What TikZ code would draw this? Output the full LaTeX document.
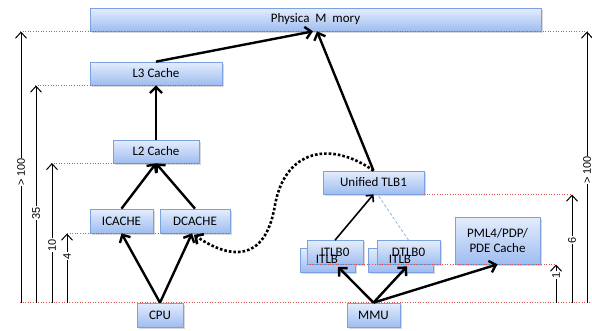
\documentclass[tikz,border=0pt]{standalone}
\usepackage{fontspec}
\setmainfont{Carlito}
\newfontfamily\axisfont{Liberation Sans}
\usetikzlibrary{arrows.meta,shadows}
\definecolor{boxtop}{HTML}{E4EDFC}
\definecolor{boxbot}{HTML}{9FBDF1}
\definecolor{boxborder}{HTML}{7AA2E0}
\definecolor{guidered}{HTML}{D9534F}
\definecolor{faintblue}{HTML}{8FB4E8}
\tikzset{
  box/.style={draw=boxborder, line width=0.7pt, top color=boxtop, bottom color=boxbot,
    font=\fontsize{13}{15}\selectfont, inner sep=0pt, align=center,
    drop shadow={shadow xshift=1.5pt, shadow yshift=-1.5pt, fill=black!25, opacity=0.6}},
  guide/.style={guidered, dotted, line width=0.6pt},
  flow/.style={line width=2.4pt, -{Straight Barb[length=6pt,width=12pt]}},
  thinflow/.style={line width=1.6pt, -{Straight Barb[length=5pt,width=10pt]}},
  faint/.style={faintblue, line width=0.8pt, densely dashed},
  dotflow/.style={line width=2.6pt, dotted, -{Straight Barb[length=6pt,width=12pt]}},
  axis/.style={line width=1pt, -{Straight Barb[length=6pt,width=11pt]}},
  axlabel/.style={font=\axisfont\fontsize{11}{13}\selectfont, rotate=90, fill=white, inner sep=0.5pt},
  ghost/.style={font=\fontsize{13}{15}\selectfont, inner sep=0pt}
}
\begin{document}
\begin{tikzpicture}[x=1pt,y=-1pt]
\useasboundingbox (0,0) rectangle (592,330);

% boxes
\node[box, minimum width=451pt, minimum height=23pt] (pm) at (315.5,19.5) {Physica\ \ M\ \ mory};
\node[box, minimum width=132pt, minimum height=23pt] (l3) at (156,73.5) {L3 Cache};
\node[box, minimum width=86pt, minimum height=23pt] (l2) at (156,151.5) {L2 Cache};
\node[box, minimum width=63pt, minimum height=24pt] (ic) at (121.5,221) {ICACHE};
\node[box, minimum width=70pt, minimum height=24pt] (dc) at (195,221) {DCACHE};
\node[box, minimum width=46pt, minimum height=24pt] (cpu) at (160,315) {CPU};
\node[box, minimum width=101pt, minimum height=23pt] (uni) at (373.5,182.5) {Unified TLB1};
\node[box, minimum width=55pt, minimum height=24pt] (itlbb) at (327.5,260) {};
\node[box, minimum width=65pt, minimum height=24pt] (dtlbb) at (400.5,260) {};
\node[box, minimum width=56pt, minimum height=24pt] (itlb) at (335,252.5) {ITLB0};
\node[box, minimum width=63pt, minimum height=24pt] (dtlb) at (408.5,252.5) {DTLB0};
\node[ghost] (itlbt) at (327,259.5) {ITLB};
\node[ghost] (dtlbt) at (400,259.5) {ITLB};
\node[box, minimum width=85pt, minimum height=47pt] (pml) at (497.5,240.5) {PML4/PDP/\\PDE Cache};
\node[box, minimum width=53pt, minimum height=24pt] (mmu) at (373.5,315) {MMU};

% guide lines
\draw[guide] (20,31.5) -- (588,31.5);
\draw[guide] (35,85.5) -- (222,85.5);
\draw[guide] (51,163) -- (199,163);
\draw[guide] (67,233.5) -- (230,233.5);
\draw[guide] (20,302.5) -- (590,302.5);
\draw[guide] (424,194.5) -- (572,194.5);
\draw[guide] (307,264.5) -- (556,264.5);

% axis arrows
\coordinate (a1b) at (21,303); \coordinate (a1t) at (21,31.5);
\coordinate (a2b) at (36,303); \coordinate (a2t) at (36,85.5);
\coordinate (a3b) at (52,303); \coordinate (a3t) at (52,163);
\coordinate (a4b) at (67,303); \coordinate (a4t) at (67,233.5);
\coordinate (b1b) at (587,303); \coordinate (b1t) at (587,31.5);
\coordinate (b2b) at (572,303); \coordinate (b2t) at (572,194.5);
\coordinate (b3b) at (556,303); \coordinate (b3t) at (556,264.5);
\draw[axis] (a1b) -- (a1t);
\draw[axis] (a2b) -- (a2t);
\draw[axis] (a3b) -- (a3t);
\draw[axis] (a4b) -- (a4t);
\draw[axis] (b1b) -- (b1t);
\draw[axis] (b2b) -- (b2t);
\draw[axis] (b3b) -- (b3t);
\node[axlabel] (la1) at (21,172) {> 100};
\node[axlabel] (la2) at (36,213) {35};
\node[axlabel] (la3) at (52,245) {10};
\node[axlabel] (la4) at (67,256) {4};
\node[axlabel] (lb1) at (587,170) {> 100};
\node[axlabel] (lb2) at (572,240) {6};
\node[axlabel] (lb3) at (556,275) {1};

% connectors
\draw[flow] (l3.north) -- ([xshift=-2.5pt]pm.south);
\draw[flow] (uni.north) -- ([xshift=1.5pt]pm.south);
\draw[flow] (l2.north) -- (l3.south);
\draw[flow] (ic.north) -- (l2.south);
\draw[flow] (dc.north) -- (l2.south);
\draw[flow] (cpu.north) -- (ic.south);
\draw[flow] (cpu.north) -- ([xshift=-3pt]dc.south);
\draw[flow] (mmu.north) -- ([xshift=3pt,yshift=-2pt]itlb.south);
\draw[flow] (mmu.north) -- ([xshift=-1.5pt,yshift=-1.5pt]dtlb.south);
\draw[flow] (mmu.north) -- (pml.south);
\draw[thinflow] (itlb.north) -- (uni.south);
\draw[faint] (dtlb.north) -- ([xshift=4pt]uni.south);
\draw[dotflow] (uni.north) .. controls (330,140) and (285,150) .. (275,205)
  .. controls (265,265) and (228,258) .. ([xshift=-1pt,yshift=-1.5pt]dc.south);
\end{tikzpicture}
\end{document}
